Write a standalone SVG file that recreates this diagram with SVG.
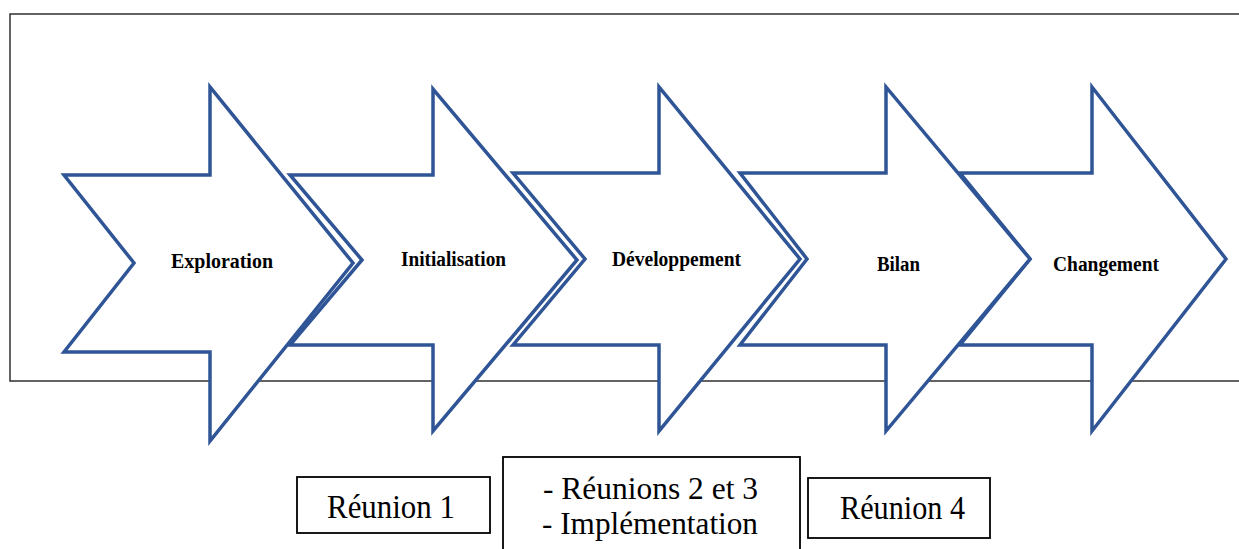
<svg xmlns="http://www.w3.org/2000/svg" width="1239" height="549" viewBox="0 0 1239 549">
  <style>
    .frame { fill: none; stroke: #222; stroke-width: 1.4; }
    .arrow { fill: #fff; stroke: #2F5597; stroke-width: 3.5; stroke-linejoin: miter; }
    .lbl { font-family: "Liberation Serif", "Times New Roman", serif; font-weight: bold; font-size: 20px; fill: #000; }
    .box { fill: #fff; stroke: #000; stroke-width: 1.8; }
    .btxt { font-family: "Liberation Serif", "Times New Roman", serif; font-size: 34px; fill: #000; }
    .btxt2 { font-family: "Liberation Serif", "Times New Roman", serif; font-size: 31px; fill: #000; }
  </style>
  <rect x="0" y="0" width="1239" height="549" fill="#fff"/>
  <rect class="frame" x="10" y="14" width="1240" height="367"/>
  <g id="arrow-changement">
    <polygon class="arrow" points="960,173 1092,173 1092,87 1226,259 1092,431 1092,345 960,345 1030,259"/>
    <text class="lbl" x="1053" y="271" textLength="106" lengthAdjust="spacingAndGlyphs">Changement</text>
  </g>
  <g id="arrow-bilan">
    <polygon class="arrow" points="740,173 886,173 886,87 1030,259 886,431 886,345 740,345 807,259"/>
    <text class="lbl" x="877" y="271" textLength="43" lengthAdjust="spacingAndGlyphs">Bilan</text>
  </g>
  <g id="arrow-developpement">
    <polygon class="arrow" points="513,173 659,173 659,87 800,259 659,431 659,345 513,345 585,259"/>
    <text class="lbl" x="612" y="266" textLength="129" lengthAdjust="spacingAndGlyphs">Développement</text>
  </g>
  <g id="arrow-initialisation">
    <polygon class="arrow" points="290,175 433,175 433,89 577,260 433,431 433,345 290,345 362,260"/>
    <text class="lbl" x="401" y="266" textLength="105" lengthAdjust="spacingAndGlyphs">Initialisation</text>
  </g>
  <g id="arrow-exploration">
    <polygon class="arrow" points="64,175 210,175 210,87 353,263 210,441 210,352 64,352 134,263"/>
    <text class="lbl" x="171" y="268" textLength="102" lengthAdjust="spacingAndGlyphs">Exploration</text>
  </g>
  <g id="box-reunion1">
    <rect class="box" x="297" y="477" width="193" height="56"/>
    <text class="btxt" x="327" y="518" textLength="128" lengthAdjust="spacingAndGlyphs">Réunion 1</text>
  </g>
  <g id="box-reunions23">
    <rect class="box" x="503" y="457" width="297" height="100"/>
    <text class="btxt2" x="543" y="499" textLength="215" lengthAdjust="spacingAndGlyphs">- Réunions 2 et 3</text>
    <text class="btxt2" x="542" y="534" textLength="216" lengthAdjust="spacingAndGlyphs">- Implémentation</text>
  </g>
  <g id="box-reunion4">
    <rect class="box" x="808" y="478" width="182" height="60"/>
    <text class="btxt" x="840" y="519" textLength="125" lengthAdjust="spacingAndGlyphs">Réunion 4</text>
  </g>
  <g id="connectors"></g>
</svg>
